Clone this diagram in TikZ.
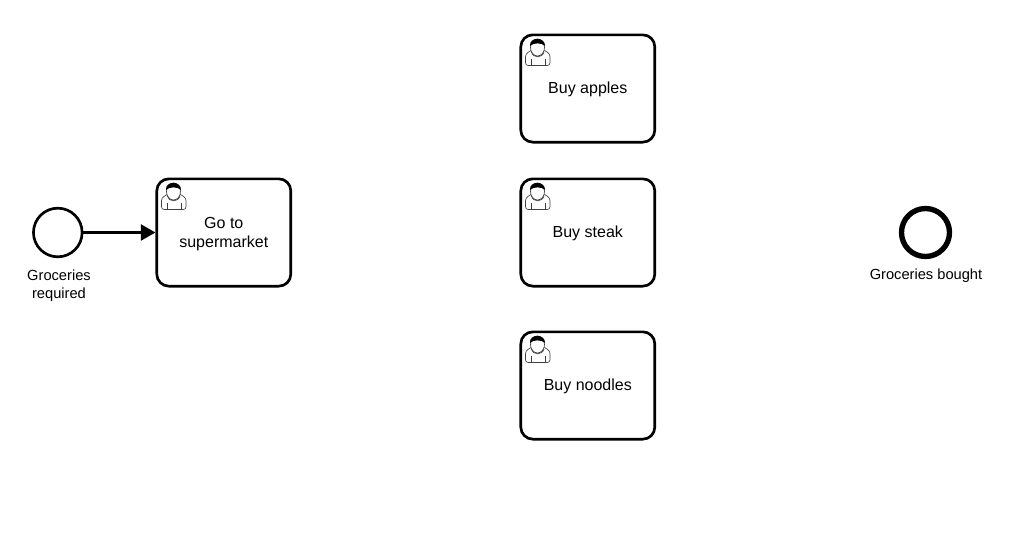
\documentclass[tikz,border=0pt]{standalone}
\usepackage{fontspec}
\setmainfont{Liberation Sans}
\usetikzlibrary{arrows.meta}
\tikzset{
  taskbox/.style={draw, line width=2pt, rounded corners=9pt, minimum width=100.5pt, minimum height=80.5pt, inner sep=0pt},
  tasktext/.style={align=center, font=\fontsize{12}{14.5}\selectfont, inner sep=0pt, yshift=-1pt},
  startev/.style={draw, circle, line width=2pt, minimum size=36.5pt, inner sep=0pt},
  endev/.style={draw, circle, line width=4pt, minimum size=36pt, inner sep=0pt},
  evlabel/.style={align=center, font=\fontsize{11}{13.5}\selectfont, inner sep=0pt},
  flowline/.style={line width=2pt, -{Triangle[length=11pt,width=12pt]}},
  usericon/.pic={
    \draw[line width=.5pt, black!75, rounded corners=2pt] (5.5,31.5)--(5.5,20)--(12.5,15.5)--(23,15.5)--(30,20)--(30,31.5)--cycle;
    \draw[line width=.5pt, black!75] (11,24.5)--(11,31.5) (25,24.5)--(25,31.5);
    \draw[line width=.5pt, black!75, fill=white] (17.5,13.5) circle[x radius=7, y radius=8.5];
    \fill (10,12) .. controls (9,2.5) and (25.5,2.5) .. (25,12) .. controls (22,8.5) and (13,8.5) .. (10,12) -- cycle;
    \draw[line width=.5pt, black!75] (11.5,18) .. controls (13,24.5) and (22,24.5) .. (24,18);
  }
}
\begin{document}
\begin{tikzpicture}[x=.75pt,y=-.75pt]
\useasboundingbox (0,0) rectangle (1026,557);
\node[startev] (start) at (57.8,232.5) {};
\node[taskbox, label={[tasktext]center:Go to\\supermarket}] (super) at (223.8,232.5) {};
\node[taskbox, label={[tasktext]center:Buy apples}] (apples) at (587.8,88.5) {};
\node[taskbox, label={[tasktext]center:Buy steak}] (steak) at (587.8,232.5) {};
\node[taskbox, label={[tasktext]center:Buy noodles}] (noodles) at (587.8,385.5) {};
\node[endev] (finish) at (925.5,232.5) {};
\node[evlabel] (startlabel) at (59,285.5) {Groceries\\required};
\node[evlabel] (finishlabel) at (926,276) {Groceries bought};
\pic at (156,178) {usericon};
\pic at (520,34) {usericon};
\pic at (520,178) {usericon};
\pic at (520,331) {usericon};
\draw[flowline] (start) -- (super);
\end{tikzpicture}
\end{document}
